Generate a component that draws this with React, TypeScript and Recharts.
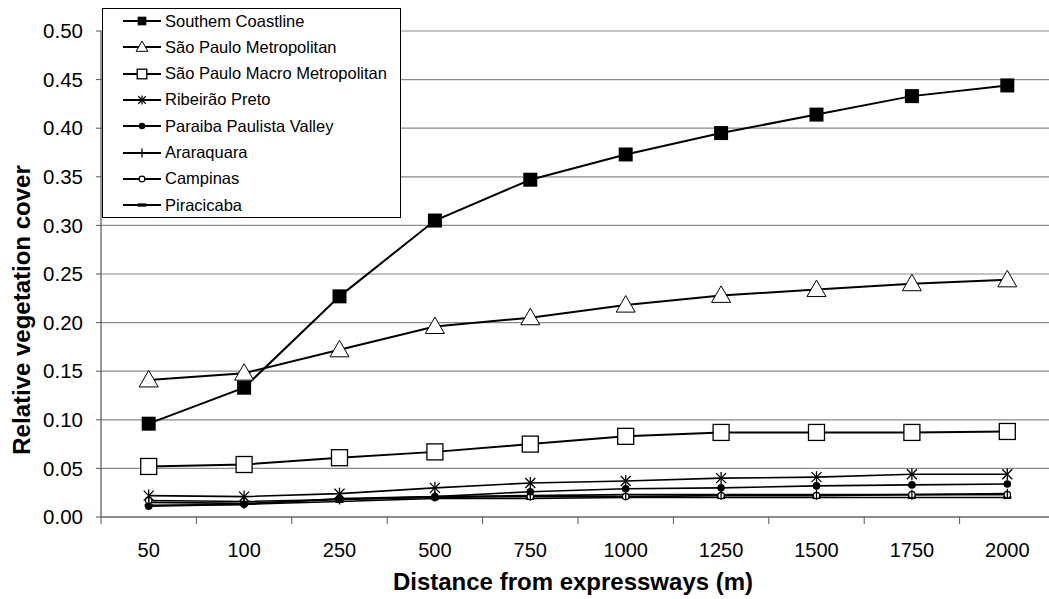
import React from "react";
import { LineChart, Line, XAxis, YAxis, CartesianGrid, Legend } from "recharts";

const distances = ["50", "100", "250", "500", "750", "1000", "1250", "1500", "1750", "2000"];
const southernCoastline = [0.096, 0.133, 0.227, 0.305, 0.347, 0.373, 0.395, 0.414, 0.433, 0.444];
const spMetropolitan = [0.141, 0.148, 0.172, 0.196, 0.205, 0.218, 0.228, 0.234, 0.24, 0.244];
const spMacroMetropolitan = [0.052, 0.054, 0.061, 0.067, 0.075, 0.083, 0.087, 0.087, 0.087, 0.088];
const ribeiraoPreto = [0.022, 0.021, 0.024, 0.03, 0.035, 0.037, 0.04, 0.041, 0.044, 0.044];
const paraibaValley = [0.011, 0.013, 0.019, 0.021, 0.026, 0.029, 0.03, 0.032, 0.033, 0.034];
const araraquara = [0.015, 0.014, 0.018, 0.021, 0.022, 0.023, 0.023, 0.023, 0.023, 0.024];
const campinas = [0.017, 0.016, 0.018, 0.02, 0.021, 0.021, 0.022, 0.022, 0.023, 0.023];
const piracicaba = [0.012, 0.013, 0.016, 0.019, 0.019, 0.02, 0.02, 0.02, 0.02, 0.02];
const yTicks = [0, 0.05, 0.1, 0.15, 0.2, 0.25, 0.3, 0.35, 0.4, 0.45, 0.5];

type MarkerKind = "fsquare" | "triangle" | "osquare" | "star" | "fcircle" | "plus" | "ocircle" | "dash";

const series: { key: string; name: string; values: number[]; marker: MarkerKind }[] = [
  { key: "sc", name: "Southem Coastline", values: southernCoastline, marker: "fsquare" },
  { key: "spm", name: "São Paulo Metropolitan", values: spMetropolitan, marker: "triangle" },
  { key: "spmm", name: "São Paulo Macro Metropolitan", values: spMacroMetropolitan, marker: "osquare" },
  { key: "rp", name: "Ribeirão Preto", values: ribeiraoPreto, marker: "star" },
  { key: "pv", name: "Paraiba Paulista Valley", values: paraibaValley, marker: "fcircle" },
  { key: "ar", name: "Araraquara", values: araraquara, marker: "plus" },
  { key: "ca", name: "Campinas", values: campinas, marker: "ocircle" },
  { key: "pi", name: "Piracicaba", values: piracicaba, marker: "dash" },
];

const data = distances.map((d, i) => {
  const row: Record<string, string | number> = { d };
  series.forEach((s) => (row[s.key] = s.values[i]));
  return row;
});

const FONT = "'Liberation Sans', Arial, sans-serif";

function Marker({ kind, cx, cy, s = 1 }: { kind: MarkerKind; cx: number; cy: number; s?: number }) {
  switch (kind) {
    case "fsquare":
      return <rect x={cx - 7 * s} y={cy - 7 * s} width={14 * s} height={14 * s} fill="#000" />;
    case "triangle":
      return (
        <polygon
          points={`${cx},${cy - 9.5 * s} ${cx - 9.5 * s},${cy + 7 * s} ${cx + 9.5 * s},${cy + 7 * s}`}
          fill="#fff" stroke="#000" strokeWidth={1}
        />
      );
    case "osquare":
      return <rect x={cx - 8 * s} y={cy - 8 * s} width={16 * s} height={16 * s} fill="#fff" stroke="#000" strokeWidth={1.3} />;
    case "star":
      return (
        <g stroke="#000" strokeWidth={1.3}>
          <line x1={cx - 5 * s} y1={cy - 5 * s} x2={cx + 5 * s} y2={cy + 5 * s} />
          <line x1={cx - 5 * s} y1={cy + 5 * s} x2={cx + 5 * s} y2={cy - 5 * s} />
          <line x1={cx} y1={cy - 6 * s} x2={cx} y2={cy + 6 * s} />
        </g>
      );
    case "fcircle":
      return <circle cx={cx} cy={cy} r={3.8 * s} fill="#000" />;
    case "plus":
      return <line x1={cx} y1={cy - 5 * s} x2={cx} y2={cy + 5 * s} stroke="#000" strokeWidth={1.3} />;
    case "ocircle":
      return <circle cx={cx} cy={cy} r={3.2 * s} fill="#fff" stroke="#000" strokeWidth={1.2} />;
    case "dash":
      return <rect x={cx - 4 * s} y={cy - 1.5 * s} width={8 * s} height={3 * s} fill="#000" />;
  }
  return null;
}

const legendScale: Record<MarkerKind, number> = {
  fsquare: 0.62, triangle: 0.62, osquare: 0.6, star: 0.75, fcircle: 0.85, plus: 0.9, ocircle: 0.9, dash: 1.1,
};

const XTick = (props: any) => {
  const { x, y, payload, index, visibleTicksCount } = props;
  const half = payload.offset ?? 0;
  return (
    <g>
      <line x1={x - half} x2={x - half} y1={y} y2={y + 7} stroke="#555" />
      {index === visibleTicksCount - 1 && <line x1={x + half} x2={x + half} y1={y} y2={y + 7} stroke="#555" />}
      <text x={x} y={y + 40} textAnchor="middle" fontFamily={FONT} fontSize={20} fill="#000">
        {payload.value}
      </text>
    </g>
  );
};

const YTitle = (props: any) => {
  const vb = props.viewBox || { x: 0, y: 0, width: 0, height: 0 };
  const cx = 21;
  const cy = vb.y + vb.height / 2 + 36;
  return (
    <text
      x={cx} y={cy} transform={`rotate(-90, ${cx}, ${cy})`} textAnchor="middle" dominantBaseline="central"
      fontFamily={FONT} fontSize={24} fontWeight="bold" fill="#000"
    >
      Relative vegetation cover
    </text>
  );
};

const LegendBox = () => (
  <div
    style={{
      position: "relative", width: 297, height: 208, border: "1px solid #000", background: "#fff",
      fontFamily: FONT, fontSize: 16.5, color: "#000", boxSizing: "content-box",
    }}
  >
    {series.map((s, i) => (
      <div key={s.key} style={{ position: "absolute", left: 0, top: 0 + i * 26.3, height: 24, display: "flex", alignItems: "center" }}>
        <svg width={62} height={24} style={{ display: "block" }}>
          <line x1={20} x2={58} y1={12} y2={12} stroke="#000" strokeWidth={2} />
          <Marker kind={s.marker} cx={39} cy={12} s={legendScale[s.marker]} />
        </svg>
        <span style={{ whiteSpace: "nowrap" }}>{s.name}</span>
      </div>
    ))}
  </div>
);

export default function App() {
  return (
    <div style={{ position: "absolute", left: 0, top: 0, width: 1049, height: 599, overflow: "hidden", background: "#fff" }}>
      <LineChart width={1070} height={599} data={data} margin={{ top: 31, right: 15, left: 0, bottom: 0 }}>
        <CartesianGrid vertical={false} stroke="#8a8a8a" strokeWidth={1.2} />
        <XAxis
          dataKey="d"
          scale="band"
          height={82}
          axisLine={{ stroke: "#555", strokeWidth: 1.2 }}
          tickLine={false}
          tickSize={0}
          tickMargin={0}
          interval={0}
          tick={<XTick />}
          label={{ value: "Distance from expressways (m)", position: "insideBottom", offset: 9, dx: -5, fill: "#000", fontSize: 24, fontWeight: "bold", fontFamily: FONT }}
        />
        <YAxis
          domain={[0, 0.5]}
          ticks={yTicks}
          width={101}
          tickFormatter={(v: number) => v.toFixed(2)}
          axisLine={{ stroke: "#555", strokeWidth: 1.2 }}
          tickLine={{ stroke: "#555" }}
          tickSize={5}
          tickMargin={13}
          tick={{ fill: "#000", fontSize: 20.5, fontFamily: FONT }}
          label={<YTitle />}
        />
        <Legend
          layout="horizontal"
          verticalAlign="middle"
          align="center"
          wrapperStyle={{ position: "absolute", left: 102, top: 8, width: 299, height: 210 }}
          content={() => <LegendBox />}
        />
        {[...series].reverse().map((s) => (
          <Line
            key={s.key}
            dataKey={s.key}
            name={s.name}
            type="linear"
            stroke="#000"
            strokeWidth={s.marker === "fsquare" || s.marker === "triangle" || s.marker === "osquare" ? 2 : 1.6}
            isAnimationActive={false}
            dot={(p: any) => <Marker key={`${s.key}-${p.index}`} kind={s.marker} cx={p.cx} cy={p.cy} />}
            activeDot={false}
          />
        ))}
      </LineChart>
    </div>
  );
}
